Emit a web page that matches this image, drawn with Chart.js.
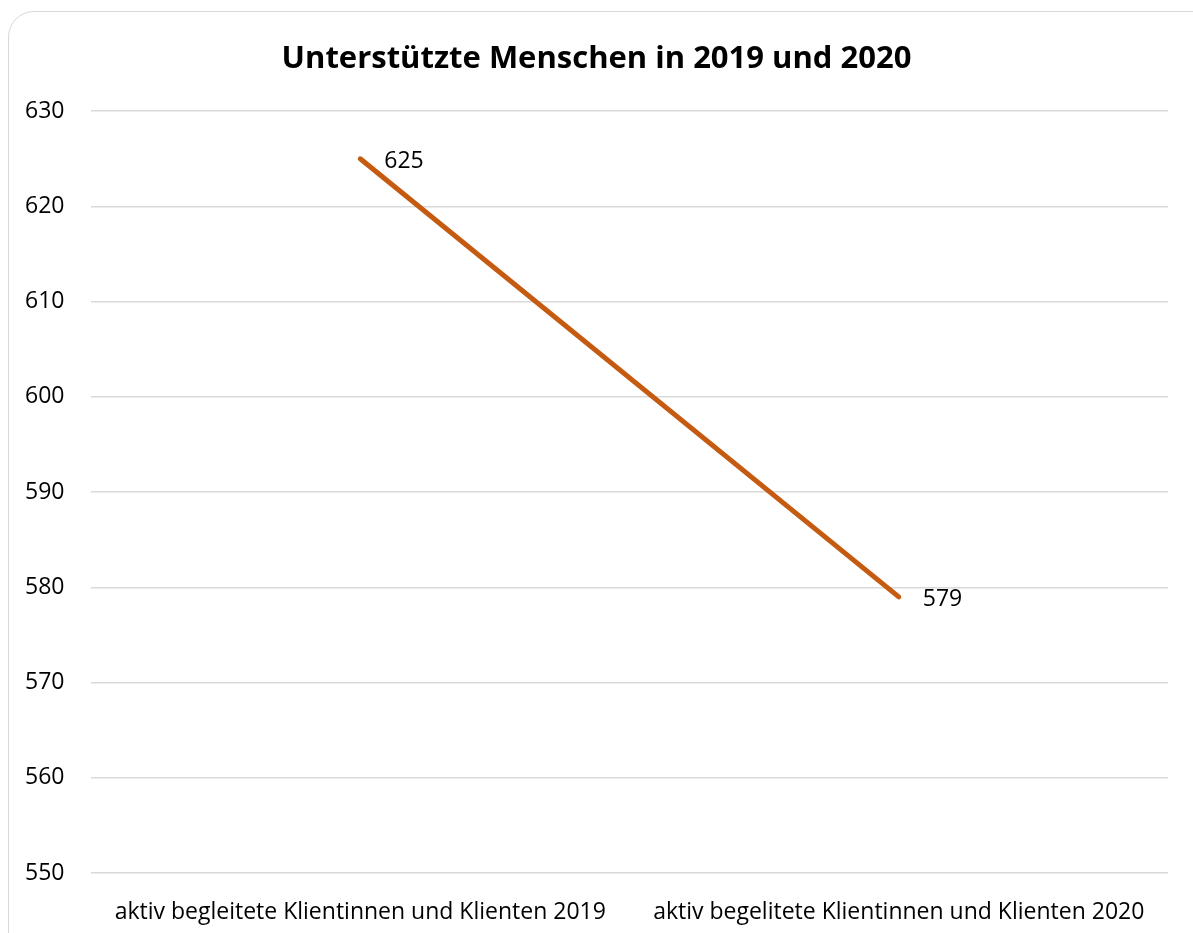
<!DOCTYPE html>
<html lang="de">
  <head>
    <meta charset="UTF-8" />
    <title>Unterstützte Menschen</title>
    <script src="https://cdn.jsdelivr.net/npm/chart.js@4.4.0/dist/chart.umd.min.js"></script>
    <style>
      html, body { margin: 0; padding: 0; overflow: hidden; background: #fff; }
      .frame {
        position: absolute; left: 8px; top: 11px; width: 1220px; height: 960px;
        border: 1.5px solid #d9d9d9; border-radius: 26px; box-sizing: border-box;
      }
      .wrap { position: absolute; left: 0; top: 0; width: 1193px; height: 933px; }
    </style>
  </head>
  <body>
    <div class="frame"></div>
    <div class="wrap"><canvas id="myChart" width="1193" height="933"></canvas></div>
    <script>
      let categories = [
        "aktiv begleitete Klientinnen und Klienten 2019",
        "aktiv begelitete Klientinnen und Klienten 2020",
      ];
      let values = [625, 579];
      let yTicks = [550, 560, 570, 580, 590, 600, 610, 620, 630];

      let fontFamily = "'Open Sans', sans-serif";

      // simple value labels right of each point
      let pointLabels = {
        id: "pointLabels",
        afterDatasetsDraw(chart) {
          let ctx = chart.ctx;
          let meta = chart.getDatasetMeta(0);
          ctx.save();
          ctx.font = "23px " + fontFamily;
          ctx.fillStyle = "#000";
          ctx.textAlign = "left";
          ctx.textBaseline = "middle";
          meta.data.forEach((pt, i) => {
            ctx.fillText(values[i], pt.x + 24, pt.y + 3);
          });
          ctx.restore();
        },
      };

      new Chart("myChart", {
        type: "line",
        data: {
          labels: categories,
          datasets: [
            {
              data: values,
              borderColor: "#C55A11",
              borderWidth: 5,
              borderCapStyle: "round",
              pointRadius: 0,
              fill: false,
            },
          ],
        },
        options: {
          responsive: false,
          animation: false,
          layout: { padding: { left: 25, right: 25, top: 0, bottom: 0 } },
          plugins: {
            legend: { display: false },
            tooltip: { enabled: false },
            title: {
              display: true,
              text: "Unterstützte Menschen in 2019 und 2020",
              color: "#000",
              font: { family: fontFamily, size: 31, weight: "bold" },
              padding: { top: 41, bottom: 33 },
            },
          },
          scales: {
            x: {
              offset: true,
              grid: { display: false, drawTicks: false },
              border: { display: false },
              ticks: {
                color: "#000",
                padding: 26,
                maxRotation: 0,
                autoSkip: false,
                font: { family: fontFamily, size: 23 },
              },
              afterFit(scale) { scale.height = 60; },
            },
            y: {
              min: 550,
              max: 630,
              afterBuildTicks(scale) {
                scale.ticks = yTicks.map((v) => ({ value: v }));
              },
              grid: { color: "#d9d9d9", lineWidth: 1.5, drawTicks: false },
              border: { display: false },
              ticks: {
                color: "#000",
                crossAlign: "far",
                padding: 0,
                font: { family: fontFamily, size: 23 },
              },
              afterFit(scale) { scale.width = 66; },
            },
          },
        },
        plugins: [pointLabels],
      });
    </script>
  </body>
</html>
